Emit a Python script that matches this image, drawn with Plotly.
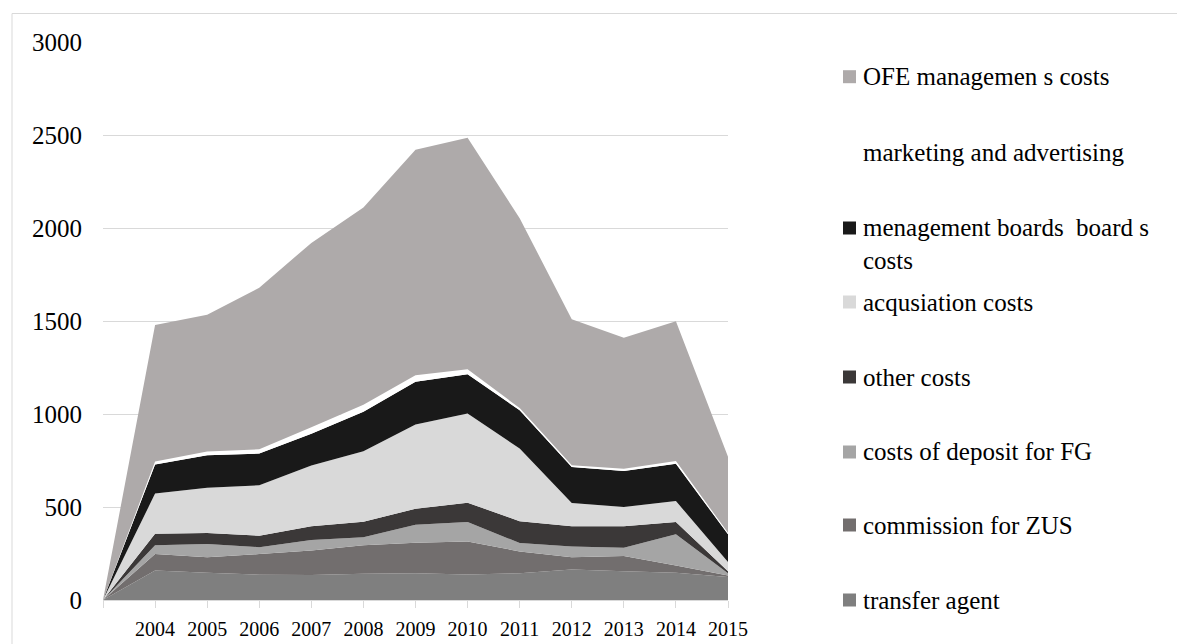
import plotly.graph_objects as go

# ---------------- data ----------------
years = [2003, 2004, 2005, 2006, 2007, 2008, 2009, 2010, 2011, 2012, 2013, 2014, 2015]
year_labels = ["", "2004", "2005", "2006", "2007", "2008", "2009", "2010",
               "2011", "2012", "2013", "2014", "2015"]

transfer_agent = [0, 159, 146, 136, 135, 141, 144, 137, 144, 164, 155, 146, 123]
commission_zus = [0, 88, 84, 111, 131, 154, 164, 178, 117, 66, 81, 40, 9]
deposit_fg = [0, 48, 71, 37, 57, 43, 97, 104, 45, 58, 45, 167, 12]
other_costs = [0, 61, 59, 62, 73, 83, 86, 104, 118, 109, 115, 66, 11]
acquisition_costs = [0, 216, 244, 271, 327, 379, 452, 480, 390, 124, 104, 113, 49]
boards_costs = [0, 156, 174, 170, 171, 212, 230, 211, 206, 194, 194, 201, 149]
marketing = [0, 16, 21, 23, 35, 38, 36, 26, 12, 9, 12, 14, 8]
ofe_management = [0, 734, 735, 869, 991, 1060, 1212, 1245, 1021, 785, 704, 751, 409]

names = ["transfer agent", "commission for ZUS", "costs of deposit for FG",
         "other costs", "acqusiation costs",
         "menagement boards \u00a0board s<br>costs",
         "marketing and advertising", "OFE managemen s costs"]
values = [transfer_agent, commission_zus, deposit_fg, other_costs,
          acquisition_costs, boards_costs, marketing, ofe_management]
colors = ["#7f7f7f", "#726e6e", "#a5a5a5", "#3b3838", "#d9d9d9",
          "#191919", "#ffffff", "#aeaaaa"]

# ---------------- layout geometry (pixels) ----------------
W, H = 1177, 644
L, R, T, B = 103, 728, 42, 600
FONT = "Liberation Serif, Times New Roman, serif"


def px(x):
    return (x - L) / (R - L)


def py(y):
    return (B - y) / (B - T)


fig = go.Figure()
for name, vals, col in zip(names, values, colors):
    fig.add_trace(go.Scatter(
        x=years, y=vals, name=name, stackgroup="one", mode="none",
        fillcolor=col, line=dict(width=0), showlegend=False,
    ))

shapes = []
annotations = []

# outer light border
shapes.append(dict(type="rect", xref="paper", yref="paper",
                   x0=px(12), x1=px(1190), y0=py(660), y1=py(13.5),
                   line=dict(color="#d9d9d9", width=1), fillcolor="rgba(0,0,0,0)",
                   layer="below"))

# manual legend (top to bottom)
legend_y = [76.7, 152, 228, 302, 377, 452, 525, 600]
order = list(range(len(names)))[::-1]
for idx, yc in zip(order, legend_y):
    shapes.append(dict(type="rect", xref="paper", yref="paper",
                       x0=px(843), x1=px(856), y0=py(yc + 6.5), y1=py(yc - 6.5),
                       line=dict(width=0), fillcolor=colors[idx]))
    txt = names[idx]
    if "<br>" in txt:
        annotations.append(dict(xref="paper", yref="paper", x=px(861), y=py(yc - 16),
                                xanchor="left", yanchor="top", text=txt, showarrow=False,
                                align="left", font=dict(family=FONT, size=25, color="#000000")))
    else:
        annotations.append(dict(xref="paper", yref="paper", x=px(861), y=py(yc),
                                xanchor="left", yanchor="middle", text=txt, showarrow=False,
                                align="left", font=dict(family=FONT, size=25, color="#000000")))

fig.update_layout(
    width=W, height=H,
    margin=dict(l=L, r=W - R, t=T, b=H - B, autoexpand=False),
    paper_bgcolor="white", plot_bgcolor="white",
    shapes=shapes, annotations=annotations,
    showlegend=False,
    xaxis=dict(range=[2003, 2015], tickvals=years, ticktext=year_labels,
               showgrid=False, zeroline=False, showline=True, linecolor="#d9d9d9",
               linewidth=1, ticks="outside", ticklen=7, tickcolor="#d9d9d9",
               tickfont=dict(family=FONT, size=20, color="#000000"),
               ticklabelstandoff=4, automargin=False),
    yaxis=dict(range=[0, 3000], dtick=500, showgrid=True, gridcolor="#d9d9d9",
               gridwidth=1, zeroline=False, showline=False, ticks="",
               tickfont=dict(family=FONT, size=25, color="#000000"),
               ticklabelstandoff=20, automargin=False),
)

fig.write_html("out.html", config={"displayModeBar": False},
               post_script="document.body.style.margin='0';document.body.style.overflow='hidden';")
